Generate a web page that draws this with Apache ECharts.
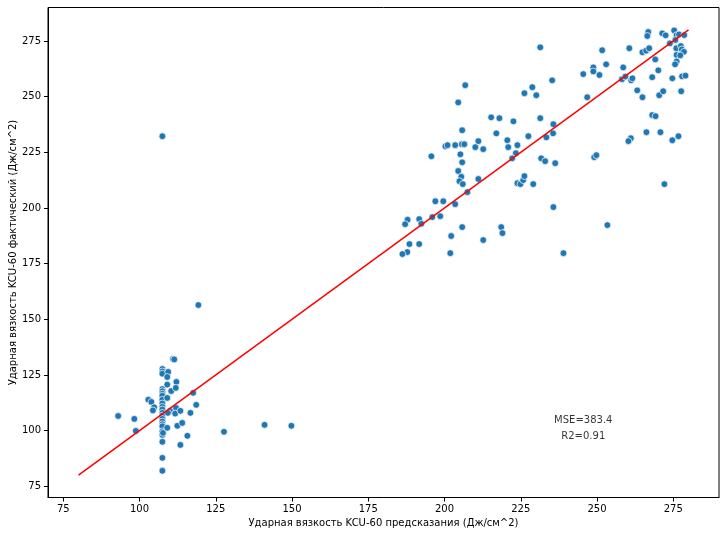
<!DOCTYPE html>
<html>
<head>
<meta charset="utf-8">
<script src="https://cdn.jsdelivr.net/npm/echarts@6/dist/echarts.min.js"></script>
<style>
  html, body { margin: 0; padding: 0; background: #fff; }
  #chart { width: 724px; height: 534px; }
</style>
</head>
<body>
<div id="chart"></div>
<script>
// Predicted values (x)
const predX = [
  // low cluster column
  107.5,107.5,107.5,107.5,107.5,107.5,107.5,107.5,107.5,107.5,107.5,107.5,107.5,107.5,107.5,107.5,107.5,107.5,107.5,107.5,107.5,107.5,107.7,
  // low cluster others
  111.0,111.4,109.4,109.1,112.1,109.1,110.4,111.9,117.6,109.1,102.9,103.9,104.8,104.4,118.6,110.0,109.3,112.0,111.7,113.4,116.7,93.0,98.3,98.8,109.1,112.4,114.0,115.7,113.4,
  107.5,119.3,127.7,141.0,149.8,
  // high cluster (top right)
  266.8,266.5,271.4,272.5,275.3,276.1,276.9,278.6,275.7,273.9,251.7,260.6,264.9,266.1,267.1,276.0,277.5,277.8,278.5,276.1,277.3,276.1,275.6,269.1,253.0,248.8,248.8,245.5,250.8,258.6,258.2,259.3,261.2,261.6,270.1,268.1,274.7,277.9,279.0,263.2,264.9,270.4,271.7,277.6,246.8,268.1,269.2,261.1,260.3,266.2,270.8,274.7,276.7,
  249.1,249.8,272.1,253.4,239.0,
  // high cluster (middle)
  231.4,235.3,206.8,226.2,228.8,230.1,204.5,215.3,218.0,222.6,231.4,235.7,235.6,233.4,227.5,217.0,205.8,220.6,211.1,210.1,212.7,220.9,223.9,223.4,222.2,200.3,201.0,203.5,205.7,206.5,205.2,205.8,195.7,204.5,231.7,233.0,236.3,
  205.5,204.9,206.0,207.5,211.1,197.0,199.6,203.5,196.0,198.6,191.7,192.4,187.9,187.1,188.5,191.7,187.8,186.2,201.9,202.2,205.8,212.7,218.6,219.0,223.9,224.9,225.8,226.2,229.1,235.7
];
// Actual values (y)
const actualY = [
  127.7,126.6,125.6,118.7,117.7,116.6,115.7,113.9,112.2,110.7,109.5,108.0,106.8,105.3,104.1,102.9,102.0,99.7,98.1,95.0,87.8,82.0,99.0,
  132.2,132.0,126.4,124.1,121.9,120.7,117.8,119.2,117.0,114.7,113.9,112.9,110.5,109.1,111.6,108.9,108.0,110.2,107.7,108.9,108.0,106.6,105.3,99.9,101.3,102.2,103.5,97.7,93.6,
  232.2,156.4,99.5,102.6,102.2,
  279.0,277.2,278.4,277.5,279.7,277.6,277.9,277.6,275.4,273.9,270.8,271.7,269.9,270.6,271.7,271.7,272.7,271.2,270.1,268.7,268.5,265.8,264.5,266.7,264.5,263.1,261.3,260.1,259.7,263.1,257.8,259.0,257.3,258.2,261.8,258.7,258.2,259.1,259.4,252.8,249.7,250.6,252.4,252.4,249.7,241.7,241.2,231.3,230.0,234.0,234.0,230.4,232.2,
  222.8,223.7,210.7,192.3,179.7,
  272.1,257.3,255.1,251.5,254.2,250.6,247.4,240.7,240.3,238.9,240.3,237.6,233.5,231.7,232.2,233.5,234.9,230.4,230.0,227.3,226.4,227.3,228.2,224.6,222.3,227.7,228.2,228.2,228.6,228.6,224.1,220.5,223.2,216.6,222.3,221.0,220.1,
  214.0,212.0,210.7,207.1,213.0,203.0,203.0,201.7,195.9,196.3,195.0,192.9,194.7,192.7,183.8,183.8,180.2,179.3,179.7,187.4,191.4,185.6,191.4,188.7,211.1,210.7,212.5,214.3,210.7,200.4
];
// Ideal line y = x
const lineX = [80, 280];
const lineY = [80, 280];
// Tick labels
const tickValues = [75, 100, 125, 150, 175, 200, 225, 250, 275];
// Metrics annotation
const metricsText = ['MSE=383.4', 'R2=0.91'];
const metricsAnchor = [245.5, 100.9];

const points = predX.map((x, i) => [x, actualY[i]]);
const linePts = lineX.map((x, i) => [x, lineY[i]]);

const font = 'DejaVu Sans';
const axisCommon = {
  type: 'value',
  min: 70,
  max: 290,
  axisLine: { show: true, onZero: false, lineStyle: { color: '#000', width: 1 } },
  axisTick: { show: true, inside: false, length: 4, customValues: tickValues, lineStyle: { color: '#000' } },
  axisLabel: { customValues: tickValues, color: '#000', fontFamily: font, fontSize: 10, margin: 7 },
  splitLine: { show: false },
  nameLocation: 'middle',
  nameMoveOverlap: false,
  nameTextStyle: { color: '#000', fontFamily: font, fontSize: 10 }
};

const chart = echarts.init(document.getElementById('chart'), null, { renderer: 'canvas' });
chart.setOption({
  animation: false,
  backgroundColor: '#fff',
  grid: {
    left: 48, right: 5, top: 7.5, bottom: 36.5,
    containLabel: false, outerBoundsMode: 'none',
    show: true, borderColor: '#000', borderWidth: 1, backgroundColor: 'transparent'
  },
  xAxis: Object.assign({}, axisCommon, {
    name: 'Ударная вязкость KCU-60 предсказания (Дж/см^2)',
    nameGap: 21
  }),
  yAxis: Object.assign({}, axisCommon, {
    name: 'Ударная вязкость KCU-60 фактический (Дж/см^2)',
    nameGap: 30
  }),
  series: [
    {
      type: 'scatter',
      data: points,
      symbolSize: 6.8,
      itemStyle: { color: '#1f77b4', borderColor: '#ffffff', borderWidth: 0.7, opacity: 1 },
      z: 2
    },
    {
      type: 'line',
      data: linePts,
      showSymbol: false,
      symbol: 'none',
      lineStyle: { color: '#ff0000', width: 1.5 },
      z: 3
    },
    {
      type: 'scatter',
      data: [metricsAnchor],
      symbolSize: 0,
      silent: true,
      label: {
        show: true,
        position: 'inside',
        formatter: metricsText.join('\n'),
        color: '#000',
        fontFamily: font,
        fontSize: 10,
        lineHeight: 16,
        align: 'center',
        verticalAlign: 'middle'
      },
      z: 4
    }
  ]
});
</script>
</body>
</html>
